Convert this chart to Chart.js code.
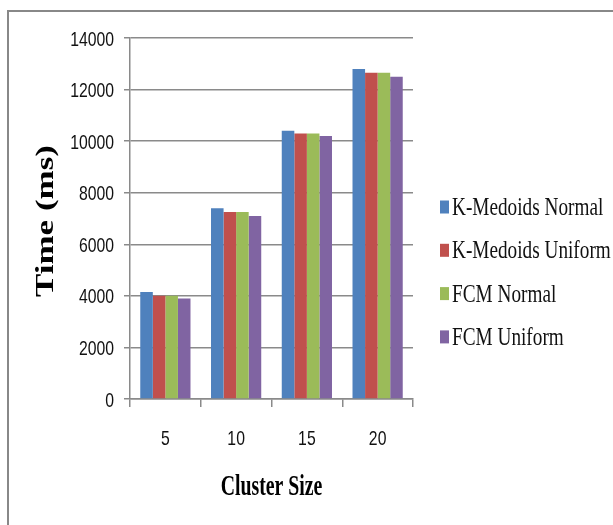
<!DOCTYPE html>
<html>
<head>
<meta charset="utf-8">
<script src="https://cdn.jsdelivr.net/npm/chart.js@4/dist/chart.umd.min.js"></script>
<style>
  html, body { margin: 0; padding: 0; background: #fff; }
  canvas { display: block; }
</style>
</head>
<body>
<canvas id="c" width="613" height="525"></canvas>
<script>
// Execution time per cluster size, in milliseconds
const clusterSizes = ['5', '10', '15', '20'];
const kMedoidsNormal  = [4150, 7400, 10400, 12800];
const kMedoidsUniform = [4000, 7250, 10300, 12650];
const fcmNormal       = [4000, 7250, 10300, 12650];
const fcmUniform      = [3900, 7100, 10200, 12500];
const seriesNames = ['K-Medoids Normal', 'K-Medoids Uniform', 'FCM Normal', 'FCM Uniform'];
const yTicks = [0, 2000, 4000, 6000, 8000, 10000, 12000, 14000];

const colors = ['#4F81BD', '#C0504D', '#9BBB59', '#8064A2'];
const gridColor = '#8a8a8a';

// Draw a string squeezed horizontally by sx around (x, y)
function condensedText(ctx, text, x, y, font, sx, align) {
  ctx.save();
  ctx.translate(x, y);
  ctx.scale(sx, 1);
  ctx.font = font;
  ctx.fillStyle = '#111';
  ctx.textAlign = align;
  ctx.textBaseline = 'alphabetic';
  ctx.fillText(text, 0, 0);
  ctx.restore();
}

// Frame, tick labels, axis titles and the legend, drawn with condensed lettering
const decorations = {
  id: 'decorations',
  beforeDraw(chart) {
    const ctx = chart.ctx;
    ctx.save();
    ctx.strokeStyle = '#888';
    ctx.lineWidth = 2;
    ctx.strokeRect(8, 11, 700, 600);
    ctx.restore();
  },
  afterDraw(chart) {
    const ctx = chart.ctx;
    const a = chart.chartArea;
    const xs = chart.scales.x;
    const ys = chart.scales.y;
    const tickFont = '21px "Liberation Sans", Arial, sans-serif';

    // y tick labels
    ys.ticks.forEach(t => {
      condensedText(ctx, String(t.value), a.left - 16, ys.getPixelForValue(t.value) + 7.5, tickFont, 0.75, 'right');
    });
    // x tick labels
    chart.data.labels.forEach((lab, i) => {
      condensedText(ctx, lab, xs.getPixelForTick(i), 445, tickFont, 0.75, 'center');
    });

    // x-axis title
    ctx.save();
    ctx.fillStyle = '#000';
    ctx.font = 'bold 30px "Liberation Serif", serif';
    ctx.textAlign = 'center';
    ctx.textBaseline = 'alphabetic';
    ctx.translate((a.left + a.right) / 2, 495);
    ctx.scale(0.66, 1);
    ctx.fillText('Cluster Size', 0, 0);
    ctx.restore();

    // y-axis title
    ctx.save();
    ctx.fillStyle = '#000';
    ctx.font = 'bold 35px "Liberation Serif", serif';
    ctx.textAlign = 'left';
    ctx.textBaseline = 'alphabetic';
    ctx.translate(53, 297);
    ctx.rotate(-Math.PI / 2);
    ctx.scale(1, 0.7);
    ctx.fillText('Time (ms)', 0, 0);
    ctx.restore();

    // legend
    chart.data.datasets.forEach((ds, i) => {
      const cy = 207 + i * 43.3;
      ctx.save();
      ctx.fillStyle = ds.backgroundColor;
      ctx.fillRect(440, cy - 6.5, 9, 13);
      ctx.restore();
      condensedText(ctx, ds.label, 452, cy + 8, '25px "Liberation Serif", serif', 0.77, 'left');
    });
  }
};

const seriesValues = [kMedoidsNormal, kMedoidsUniform, fcmNormal, fcmUniform];

new Chart(document.getElementById('c'), {
  type: 'bar',
  data: {
    labels: clusterSizes,
    datasets: seriesValues.map((vals, i) => ({
      label: seriesNames[i],
      data: vals,
      backgroundColor: colors[i],
      borderWidth: 0,
      categoryPercentage: 0.71,
      barPercentage: 1.0
    }))
  },
  options: {
    responsive: false,
    animation: false,
    devicePixelRatio: 1,
    layout: { padding: { top: 38, right: 200, left: 0, bottom: 0 } },
    plugins: {
      legend: { display: false },
      tooltip: { enabled: false },
      title: { display: false }
    },
    scales: {
      x: {
        grid: {
          offset: true,
          drawOnChartArea: false,
          drawTicks: true,
          tickLength: 8,
          lineWidth: 1.5,
          color: gridColor
        },
        border: { display: true, color: gridColor, width: 1.5 },
        ticks: { display: false },
        afterFit(scale) { scale.height = 126; }
      },
      y: {
        min: 0,
        max: 14000,
        afterBuildTicks(scale) { scale.ticks = yTicks.map(v => ({ value: v })); },
        grid: {
          color: gridColor,
          lineWidth: 1.5,
          drawTicks: true,
          tickLength: 6
        },
        border: { display: true, color: gridColor, width: 1.5 },
        ticks: { display: false },
        afterFit(scale) { scale.width = 130; }
      }
    }
  },
  plugins: [decorations]
});
</script>
</body>
</html>
